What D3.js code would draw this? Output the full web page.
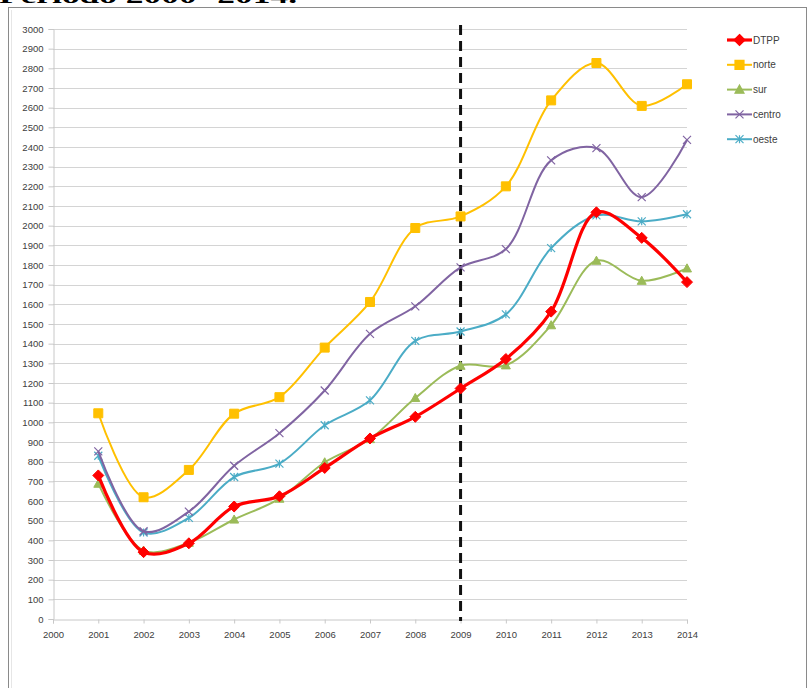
<!DOCTYPE html>
<html>
<head>
<meta charset="utf-8">
<script src="https://cdn.jsdelivr.net/npm/d3@7"></script>
<style>
  html, body { margin: 0; padding: 0; background: #fff; }
  svg { display: block; }
</style>
</head>
<body>
<svg id="chart" width="809" height="688"></svg>
<script>
// Years on the x axis
const years = [2001, 2002, 2003, 2004, 2005, 2006, 2007, 2008, 2009, 2010, 2011, 2012, 2013, 2014];
const xTicks = d3.range(2000, 2015);
const yTicks = d3.range(0, 3001, 100);

// Series values per year
const dtpp   = [730, 340, 385, 572, 624, 768, 918, 1028, 1172, 1322, 1563, 2068, 1938, 1713];
const norte  = [1046, 619, 758, 1044, 1128, 1380, 1612, 1988, 2047, 2200, 2637, 2827, 2609, 2719];
const sur    = [688, 348, 388, 506, 612, 797, 915, 1124, 1288, 1290, 1494, 1822, 1720, 1783];
const centro = [852, 446, 546, 779, 945, 1162, 1450, 1590, 1788, 1881, 2332, 2394, 2145, 2436];
const oeste  = [830, 440, 514, 722, 790, 985, 1112, 1414, 1462, 1549, 1886, 2052, 2022, 2058];
const seriesNames = ["DTPP", "norte", "sur", "centro", "oeste"];
const dividerYear = 2009;

const seriesList = [
  { name: "DTPP",   values: dtpp,   color: "#FF0000", width: 3.2, marker: "diamond" },
  { name: "norte",  values: norte,  color: "#FFC000", width: 2,   marker: "square" },
  { name: "sur",    values: sur,    color: "#9BBB59", width: 2,   marker: "triangle" },
  { name: "centro", values: centro, color: "#8064A2", width: 2,   marker: "x" },
  { name: "oeste",  values: oeste,  color: "#4BACC6", width: 2,   marker: "star" }
];

const svg = d3.select("#chart");

// Title line (sits partly above the frame)
svg.append("text")
  .attr("x", -1).attr("y", 3)
  .attr("font-family", "'Liberation Serif', 'DejaVu Serif', serif")
  .attr("font-weight", "bold")
  .attr("font-size", 21)
  .attr("textLength", 298)
  .attr("lengthAdjust", "spacingAndGlyphs")
  .attr("fill", "#000")
  .text("Periodo 2000- 2014.");

// Outer frame
svg.append("rect")
  .attr("x", 8.5).attr("y", 7.5).attr("width", 798).attr("height", 690)
  .attr("fill", "#fff").attr("stroke", "#8a8a8a").attr("stroke-width", 1);
svg.append("line")
  .attr("x1", 11.5).attr("x2", 11.5).attr("y1", 10).attr("y2", 688)
  .attr("stroke", "#e6e6e6").attr("stroke-width", 1);

const x = d3.scaleLinear().domain([2000, 2014]).range([53, 687]);
const y = d3.scaleLinear().domain([0, 3000]).range([619, 29]);

const plot = svg.append("g");

// Horizontal gridlines
plot.append("g")
  .selectAll("line")
  .data(yTicks.filter(d => d > 0))
  .join("line")
  .attr("x1", x(2000)).attr("x2", x(2014))
  .attr("y1", d => Math.round(y(d)) + 0.5).attr("y2", d => Math.round(y(d)) + 0.5)
  .attr("stroke", "#d4d4d4").attr("stroke-width", 1);

// Y axis
const yAxis = d3.axisLeft(y).tickValues(yTicks).tickFormat(d3.format("d")).tickSize(5).tickPadding(5);
const gy = plot.append("g")
  .attr("transform", `translate(${x(2000) + 0.5},0)`)
  .call(yAxis);
gy.select(".domain").attr("stroke", "#c8c8c8");
gy.selectAll(".tick line").attr("stroke", "#c8c8c8");
gy.selectAll(".tick text")
  .attr("fill", "#404040")
  .attr("font-family", "'Liberation Sans', Arial, sans-serif")
  .attr("font-size", 9.5);

// X axis
const xAxis = d3.axisBottom(x).tickValues(xTicks).tickFormat(d3.format("d")).tickSize(4).tickPadding(8);
const gx = plot.append("g")
  .attr("transform", `translate(0,${Math.round(y(0)) + 0.5})`)
  .call(xAxis);
gx.select(".domain").attr("stroke", "#c8c8c8");
gx.selectAll(".tick line").attr("stroke", "#c8c8c8");
gx.selectAll(".tick text")
  .attr("fill", "#404040")
  .attr("font-family", "'Liberation Sans', Arial, sans-serif")
  .attr("font-size", 9.5);

// Dashed divider at the reference year
plot.append("line")
  .attr("x1", x(dividerYear)).attr("x2", x(dividerYear))
  .attr("y1", 25).attr("y2", y(0) + 2)
  .attr("stroke", "#111").attr("stroke-width", 3)
  .attr("stroke-dasharray", "10,6");

// Marker shapes
function markerPath(type, s) {
  const h = s / 2;
  switch (type) {
    case "diamond": return `M0,${-h}L${h},0L0,${h}L${-h},0Z`;
    case "square": return `M${-h},${-h}H${h}V${h}H${-h}Z`;
    case "triangle": return `M0,${-h}L${h},${h * 0.8}L${-h},${h * 0.8}Z`;
    case "x": return `M${-h},${-h}L${h},${h}M${h},${-h}L${-h},${h}`;
    case "star": return `M${-h},${-h}L${h},${h}M${h},${-h}L${-h},${h}M0,${-h}V${h}`;
  }
}
const markerSize = { diamond: 11, square: 9, triangle: 9, x: 8, star: 8 };

const line = d3.line()
  .x((d, i) => x(years[i]))
  .y(d => y(d))
  .curve(d3.curveCatmullRom.alpha(0.5));

// Draw series in reverse so DTPP sits on top
[...seriesList].reverse().forEach(s => {
  const g = plot.append("g");
  g.append("path")
    .datum(s.values)
    .attr("d", line)
    .attr("fill", "none")
    .attr("stroke", s.color)
    .attr("stroke-width", s.width)
    .attr("stroke-linejoin", "round");
  g.selectAll("path.mk")
    .data(s.values)
    .join("path")
    .attr("class", "mk")
    .attr("transform", (d, i) => `translate(${x(years[i])},${y(d)})`)
    .attr("d", markerPath(s.marker, markerSize[s.marker]))
    .attr("fill", (s.marker === "x" || s.marker === "star") ? "none" : s.color)
    .attr("stroke", s.color)
    .attr("stroke-width", (s.marker === "x" || s.marker === "star") ? 1.2 : 1);
});

// Legend
const legend = svg.append("g").attr("transform", "translate(727,40)");
seriesList.forEach((s, i) => {
  const row = legend.append("g").attr("transform", `translate(0,${i * 24.8})`);
  row.append("line")
    .attr("x1", 0).attr("x2", 25).attr("y1", 0).attr("y2", 0)
    .attr("stroke", s.color).attr("stroke-width", s.width);
  row.append("path")
    .attr("transform", "translate(12.5,0)")
    .attr("d", markerPath(s.marker, markerSize[s.marker]))
    .attr("fill", (s.marker === "x" || s.marker === "star") ? "none" : s.color)
    .attr("stroke", s.color)
    .attr("stroke-width", 1.2);
  row.append("text")
    .attr("x", 26).attr("y", 3.5)
    .attr("fill", "#404040")
    .attr("font-family", "'Liberation Sans', Arial, sans-serif")
    .attr("font-size", 10)
    .text(seriesNames[i]);
});
</script>
</body>
</html>
